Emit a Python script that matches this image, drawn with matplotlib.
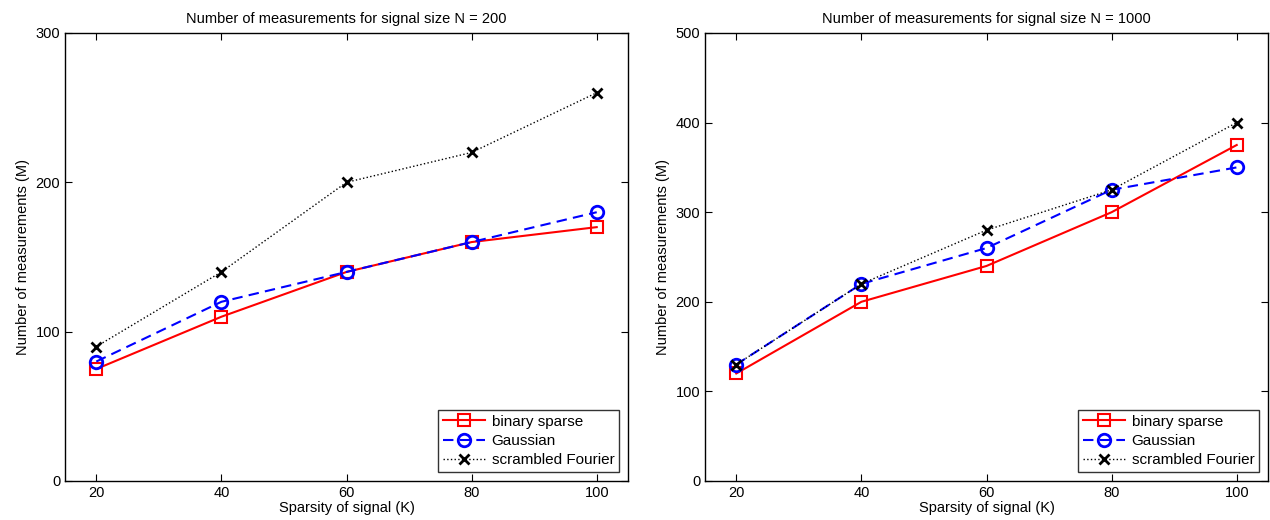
import matplotlib
matplotlib.use("Agg")
import matplotlib.pyplot as plt

plt.rcParams['font.family'] = ['Liberation Sans', 'DejaVu Sans']

K = [20, 40, 60, 80, 100]
# N = 200
binary_200 = [75, 110, 140, 160, 170]
gauss_200 = [80, 120, 140, 160, 180]
fourier_200 = [90, 140, 200, 220, 260]
# N = 1000
binary_1000 = [120, 200, 240, 300, 375]
gauss_1000 = [130, 220, 260, 325, 350]
fourier_1000 = [130, 220, 280, 325, 400]

titles = ["Number of measurements for signal size N = 200",
          "Number of measurements for signal size N = 1000"]
yticks_list = [[0, 100, 200, 300], [0, 100, 200, 300, 400, 500]]
ylims = [(0, 300), (0, 500)]

fig = plt.figure(figsize=(12.7, 5.2), dpi=100)
ax1 = fig.add_axes([65/1270, 1-481/520, (628-65)/1270, (481-33)/520])
ax2 = fig.add_axes([705/1270, 1-481/520, (1268-705)/1270, (481-33)/520])

data = [(binary_200, gauss_200, fourier_200), (binary_1000, gauss_1000, fourier_1000)]
for ax, (b, g, f), title, yt, yl in zip([ax1, ax2], data, titles, yticks_list, ylims):
    ax.plot(K, b, '-', color='red', lw=1.5, marker='s', ms=8, mfc='none', mew=1.5, label='binary sparse')
    ax.plot(K, g, '--', color='blue', lw=1.5, marker='o', ms=9, mfc='none', mew=2, label='Gaussian', dashes=(5, 3))
    ax.plot(K, f, ':', color='black', lw=1, marker='x', ms=7, mew=2, label='scrambled Fourier')
    ax.set_xlim(15, 105)
    ax.set_ylim(*yl)
    ax.set_xticks(K)
    ax.set_yticks(yt)
    ax.tick_params(direction='in', top=True, right=True, labelsize=10.5, length=5)
    ax.set_title(title, fontsize=10.5, pad=7)
    ax.set_xlabel('Sparsity of signal (K)', fontsize=10.5, labelpad=1)
    ax.set_ylabel('Number of measurements (M)', fontsize=10.5)
    leg = ax.legend(loc='lower right', fontsize=11, frameon=True, fancybox=False,
                    edgecolor='black', borderaxespad=0.6, handlelength=2.8,
                    borderpad=0.3, labelspacing=0.35, handletextpad=0.4)
    leg.get_frame().set_linewidth(1.0)
    for s in ax.spines.values():
        s.set_linewidth(1.0)

fig.savefig('out.png', dpi=100)
